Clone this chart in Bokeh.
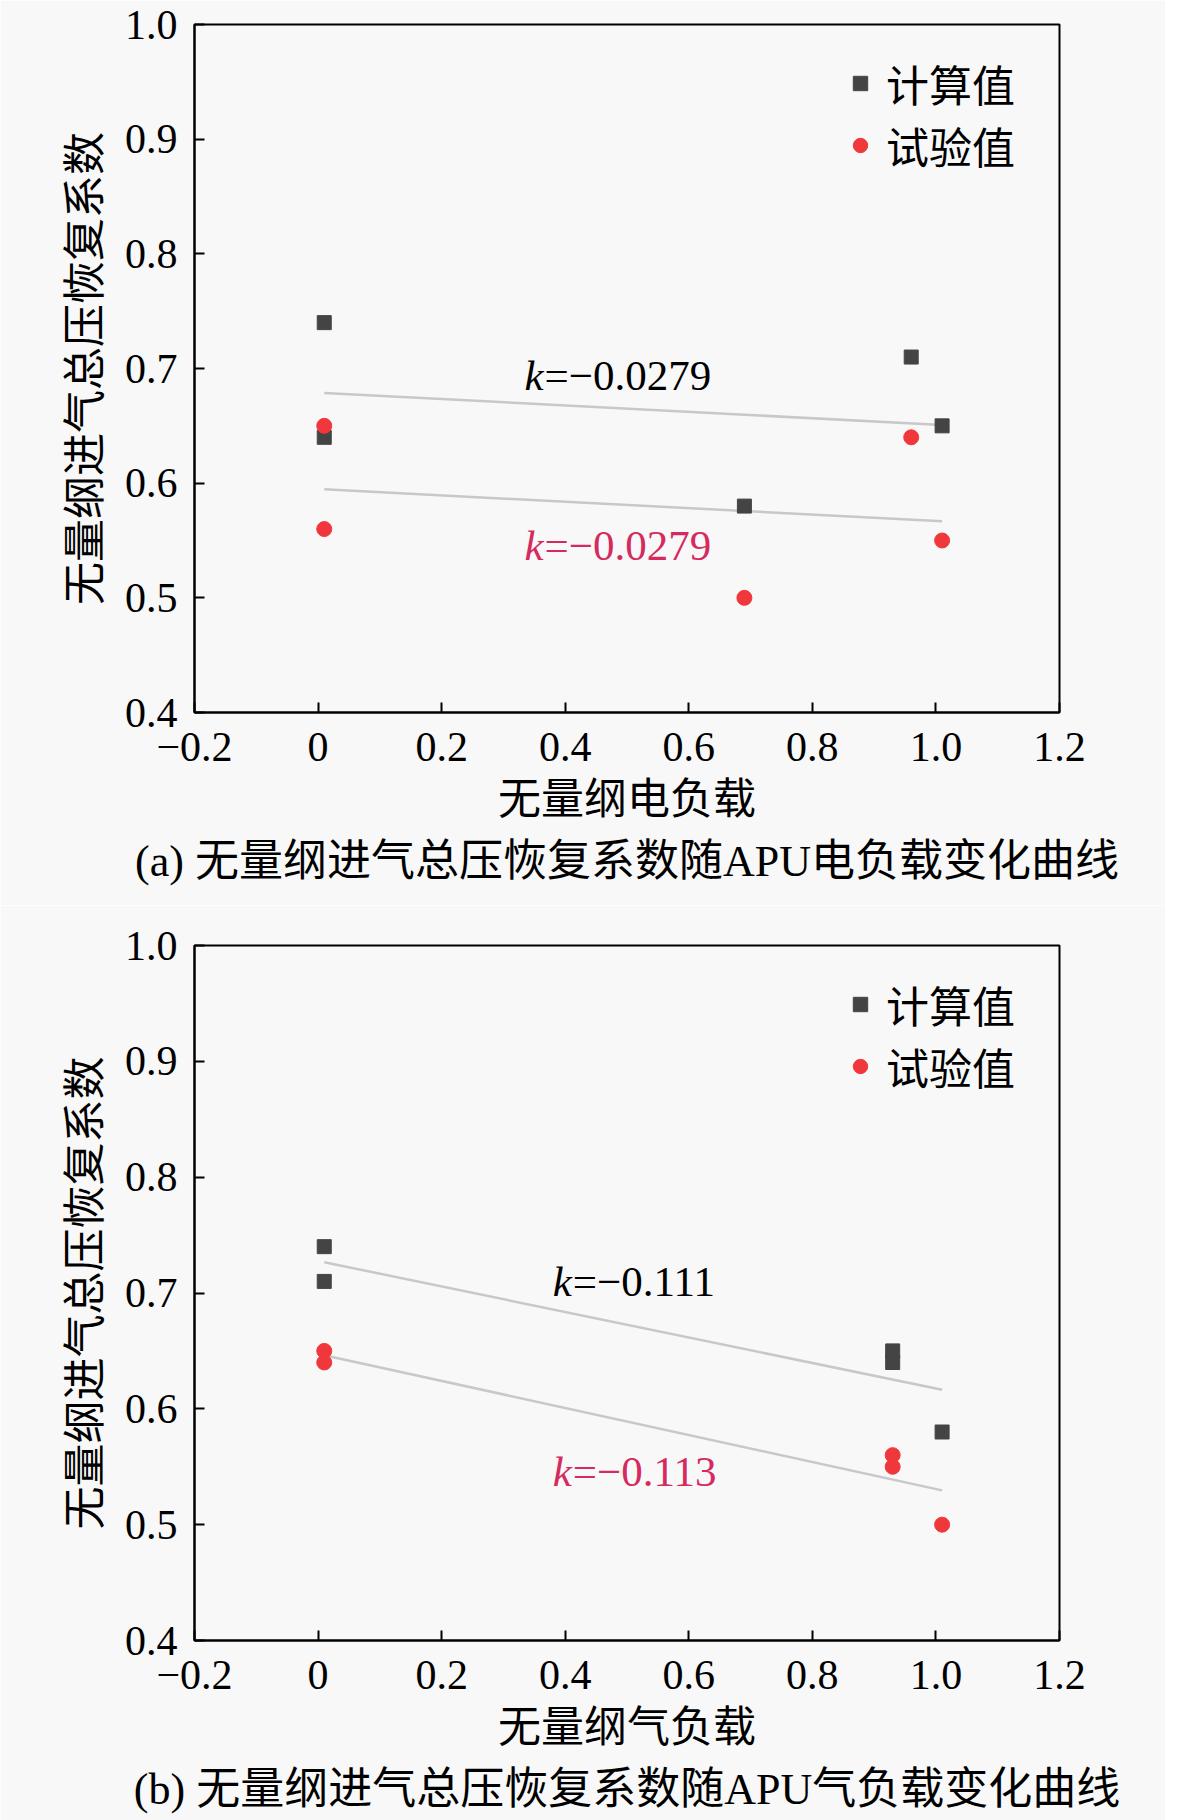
import numpy as np
from bokeh.plotting import figure
from bokeh.layouts import column
from bokeh.models import Label, Title, FixedTicker, Legend
from bokeh.embed import file_html
from bokeh.resources import INLINE

# ---------------- data ----------------
# (a) electric load
a_calc_x = [0.01, 0.01, 0.69, 0.96, 1.01]
a_calc_y = [0.74, 0.64, 0.58, 0.71, 0.65]
a_test_x = [0.01, 0.01, 0.69, 0.96, 1.01]
a_test_y = [0.65, 0.56, 0.50, 0.64, 0.55]
a_k_calc = "=\u22120.0279"
a_k_test = "=\u22120.0279"

# (b) bleed-air load
b_calc_x = [0.01, 0.01, 0.93, 0.93, 1.01]
b_calc_y = [0.74, 0.71, 0.65, 0.64, 0.58]
b_test_x = [0.01, 0.01, 0.93, 0.93, 1.01]
b_test_y = [0.65, 0.64, 0.56, 0.55, 0.50]
b_k_calc = "=\u22120.111"
b_k_test = "=\u22120.113"

x_ticks = [-0.2, 0.0, 0.2, 0.4, 0.6, 0.8, 1.0, 1.2]
x_tick_labels = ["\u22120.2", "0", "0.2", "0.4", "0.6", "0.8", "1.0", "1.2"]
y_ticks = [0.4, 0.5, 0.6, 0.7, 0.8, 0.9, 1.0]
y_tick_labels = ["0.4", "0.5", "0.6", "0.7", "0.8", "0.9", "1.0"]

legend_labels = ["计算值", "试验值"]
y_title = "无量纲进气总压恢复系数"
x_titles = ["无量纲电负载", "无量纲气负载"]
captions = ["(a) 无量纲进气总压恢复系数随APU电负载变化曲线",
            "(b) 无量纲进气总压恢复系数随APU气负载变化曲线"]

# --------------- styling ---------------
LAT = "Liberation Serif"
CJK = "Noto Sans CJK SC"
BG = "#f8f8f8"
SQ = "#444444"
RED = "#f0383c"
PINK = "#d62a5e"
TREND = "#c8c8c8"


def make_plot(cx, cy, tx, ty, k_calc, k_test, k_pos_calc, k_pos_test,
              xtitle, caption, top, fh, bottom):
    p = figure(frame_width=865, frame_height=fh,
               min_border_left=194, min_border_right=106,
               min_border_top=top, min_border_bottom=bottom,
               x_range=(-0.2, 1.2), y_range=(0.4, 1.0),
               output_backend="svg", toolbar_location=None,
               background_fill_color=BG, border_fill_color=BG)
    p.grid.visible = False
    p.outline_line_color = "black"
    p.outline_line_width = 2
    p.outline_line_alpha = 1

    for ax in (p.xaxis[0], p.yaxis[0]):
        ax.axis_line_width = 2
        ax.major_tick_line_width = 2
        ax.major_tick_in = 10
        ax.major_tick_out = 0
        ax.minor_tick_line_color = None
        ax.major_label_text_font = LAT
        ax.major_label_text_font_size = "42px"
        ax.major_label_text_color = "black"
        ax.axis_label_text_font = CJK
        ax.axis_label_text_font_size = "43px"
        ax.axis_label_text_font_style = "normal"
        ax.axis_label_text_color = "black"

    p.xaxis.ticker = FixedTicker(ticks=x_ticks)
    p.xaxis.major_label_overrides = dict(zip(x_ticks, x_tick_labels))
    p.yaxis.ticker = FixedTicker(ticks=y_ticks)
    p.yaxis.major_label_overrides = dict(zip(y_ticks, y_tick_labels))
    p.xaxis.axis_label = xtitle
    p.yaxis.axis_label = y_title
    p.xaxis.major_label_standoff = 20
    p.yaxis.major_label_standoff = 17
    p.xaxis.axis_label_standoff = 0
    p.yaxis.axis_label_standoff = 10

    # trend lines (least squares fits of each series)
    for xs, ys in ((cx, cy), (tx, ty)):
        m, b = np.polyfit(xs, ys, 1)
        lx = np.array([min(xs), max(xs)])
        p.line(lx, m * lx + b, line_color=TREND, line_width=2.5)

    r1 = p.scatter(cx, cy, marker="square", size=14, fill_color=SQ,
                   line_color=SQ)
    r2 = p.scatter(tx, ty, marker="circle", size=15, fill_color=RED,
                   line_color=RED)

    leg = Legend(items=[(legend_labels[0], [r1]), (legend_labels[1], [r2])],
                 location="top_right")
    leg.label_text_font = CJK
    leg.label_text_font_size = "43px"
    leg.label_text_color = "black"
    leg.border_line_color = None
    leg.background_fill_alpha = 0
    leg.margin = 28
    leg.padding = 4
    leg.spacing = -14
    leg.label_height = 48
    leg.label_width = 145
    leg.glyph_height = 36
    leg.glyph_width = 36
    leg.label_standoff = 8
    p.add_layout(leg)

    for (kx, ky), txt, col in ((k_pos_calc, k_calc, "black"),
                               (k_pos_test, k_test, PINK)):
        p.add_layout(Label(x=kx, y=ky, text="k", text_font=LAT,
                           text_font_style="italic", text_font_size="43px",
                           text_color=col, text_baseline="middle"))
        p.add_layout(Label(x=kx, y=ky, x_offset=20, text=txt, text_font=LAT,
                           text_font_size="43px", text_color=col,
                           text_baseline="middle"))

    cap = Title(text=caption, align="center",
                text_font="Liberation Serif, Noto Sans CJK SC",
                text_font_size="44px", text_font_style="normal",
                text_color="black", standoff=13)
    p.add_layout(cap, "below")
    return p


p1 = make_plot(a_calc_x, a_calc_y, a_test_x, a_test_y, a_k_calc, a_k_test,
               (0.334, 0.694), (0.334, 0.546), x_titles[0], captions[0],
               top=24, fh=688, bottom=193)
p2 = make_plot(b_calc_x, b_calc_y, b_test_x, b_test_y, b_k_calc, b_k_test,
               (0.38, 0.710), (0.38, 0.546), x_titles[1], captions[1],
               top=40, fh=695, bottom=176)

layout = column(p1, p2, spacing=0)
with open("out.html", "w") as f:
    f.write(file_html(layout, INLINE))
